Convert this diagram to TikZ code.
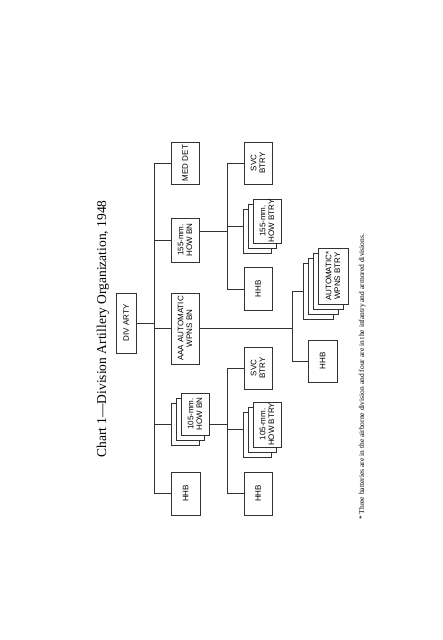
\documentclass[tikz,border=0pt]{standalone}
\usepackage{fontspec}
\newfontfamily\bxfont{Liberation Sans}
\newfontfamily\ttlfont{Liberation Serif}
\definecolor{linec}{RGB}{50,50,50}
\begin{document}
\begin{tikzpicture}[x=1pt,y=1pt,
  box/.style={draw=linec, line width=0.9pt, fill=white, rotate=90, inner sep=0pt,
    align=center, font=\bxfont\fontsize{8}{8.6}\selectfont},
  conn/.style={draw=linec, line width=0.9pt}]
\useasboundingbox (0,0) rectangle (443,-640);
\fill[white] (0,0) rectangle (443,-640);
% title and footnote
\node[rotate=90, anchor=base, inner sep=0pt, font=\ttlfont\fontsize{13.5}{15}\selectfont] (title) at (106,-329) {Chart 1—Division Artillery Organization, 1948};
\node[rotate=90, anchor=base west, inner sep=0pt, font=\ttlfont\fontsize{7.5}{8.5}\selectfont] (foot) at (364,-520) {* Three batteries are in the airborne division and four are in the infantry and armored divisions.};
% top
\node[box, minimum width=60pt, minimum height=20pt] (div) at (126,-323) {DIV ARTY};
% first level
\node[box, minimum width=42pt, minimum height=28pt] (med) at (185,-163) {MED DET};
\node[box, minimum width=44pt, minimum height=28pt] (bn155) at (185,-240) {155-mm.\\HOW BN};
\node[box, minimum width=71pt, minimum height=28pt] (aaa) at (185,-328.5) {AAA AUTOMATIC\\WPNS BN};
\node[box, minimum width=42pt, minimum height=28pt] (bn105c) at (185,-424) {};
\node[box, minimum width=42pt, minimum height=28pt] (bn105b) at (190,-419) {};
\node[box, minimum width=42pt, minimum height=28pt] (bn105a) at (195,-414) {105-mm.\\HOW BN};
\node[box, minimum width=43pt, minimum height=29pt] (hhb1) at (185.5,-493.5) {HHB};
% second level under 155
\node[box, minimum width=42pt, minimum height=28pt] (svc2) at (258,-163) {SVC\\BTRY};
\node[box, minimum width=44pt, minimum height=28pt] (b155c) at (257,-231) {};
\node[box, minimum width=44pt, minimum height=28pt] (b155b) at (262,-226) {};
\node[box, minimum width=44pt, minimum height=28pt] (b155a) at (267,-221) {155-mm.\\HOW BTRY};
\node[box, minimum width=43pt, minimum height=28pt] (hhb3) at (258,-289) {HHB};
% second level under 105
\node[box, minimum width=42pt, minimum height=28pt] (svc1) at (258,-368) {SVC\\BTRY};
\node[box, minimum width=45pt, minimum height=28pt] (b105c) at (257,-434.5) {};
\node[box, minimum width=45pt, minimum height=28pt] (b105b) at (262,-429.5) {};
\node[box, minimum width=45pt, minimum height=28pt] (b105a) at (267,-424.5) {105-mm.\\HOW BTRY};
\node[box, minimum width=43pt, minimum height=28pt] (hhb2) at (258,-493.5) {HHB};
% second level under AAA
\node[box, minimum width=56pt, minimum height=30pt] (wd) at (318,-291) {};
\node[box, minimum width=56pt, minimum height=30pt] (wc) at (323,-286) {};
\node[box, minimum width=56pt, minimum height=30pt] (wb) at (328,-281) {};
\node[box, minimum width=56pt, minimum height=30pt] (wa) at (333,-276) {AUTOMATIC*\\WPNS BTRY};
\node[box, minimum width=42pt, minimum height=29pt] (hhb4) at (322.5,-361) {HHB};
% buses
\coordinate (b1t) at (154,-163);
\coordinate (b1b) at (154,-493.5);
\coordinate (b2t) at (227,-163);
\coordinate (b2b) at (227,-289);
\coordinate (b3t) at (292,-291);
\coordinate (b3b) at (292,-361);
\coordinate (b4t) at (227,-368);
\coordinate (b4b) at (227,-493.5);
\draw[conn] (b1t) -- (b1b);
\draw[conn] (b2t) -- (b2b);
\draw[conn] (b3t) -- (b3b);
\draw[conn] (b4t) -- (b4b);
% connectors
\draw[conn] (div.south) -- (div.south -| b1t);
\draw[conn] (med.north) -- (med.north -| b1t);
\draw[conn] (bn155.north) -- (bn155.north -| b1t);
\draw[conn] (aaa.north) -- (aaa.north -| b1t);
\draw[conn] (bn105c.north) -- (bn105c.north -| b1t);
\draw[conn] (hhb1.north) -- (hhb1.north -| b1t);
\draw[conn] ([yshift=9pt]bn155.south) -- ([yshift=9pt]bn155.south -| b2t);
\draw[conn] (svc2.north) -- (svc2.north -| b2t);
\draw[conn] (b155b.north -| b155c.north) -- (b155b.north -| b2t);
\draw[conn] (hhb3.north) -- (hhb3.north -| b2t);
\draw[conn] (aaa.south) -- (aaa.south -| b3t);
\draw[conn] (wd.north) -- (wd.north -| b3t);
\draw[conn] (hhb4.north) -- (hhb4.north -| b3t);
\draw[conn] ([yshift=-10pt]bn105a.south) -- ([yshift=-10pt]bn105a.south -| b4t);
\draw[conn] (svc1.north) -- (svc1.north -| b4t);
\draw[conn] (b105b.north -| b105c.north) -- (b105b.north -| b4t);
\draw[conn] (hhb2.north) -- (hhb2.north -| b4t);
\end{tikzpicture}
\end{document}
